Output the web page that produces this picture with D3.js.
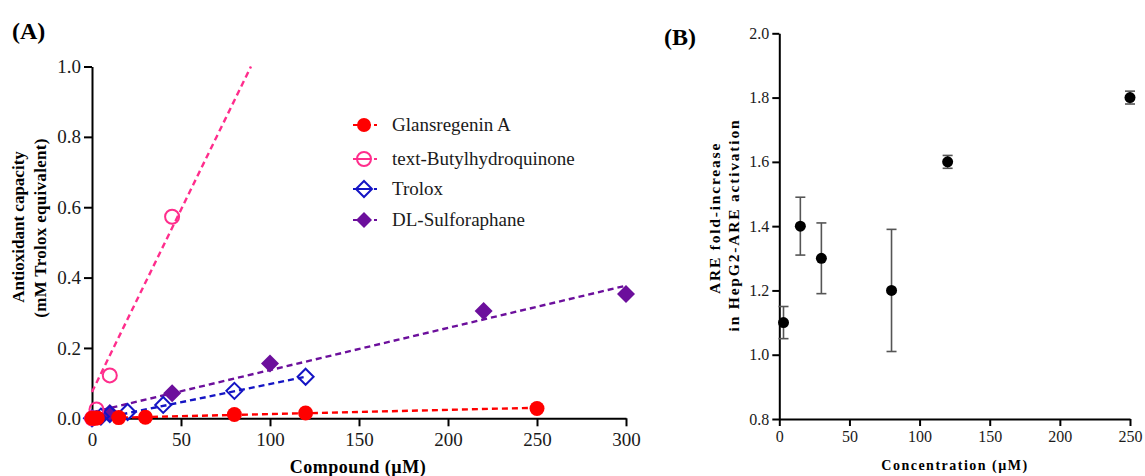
<!DOCTYPE html>
<html>
<head>
<meta charset="utf-8">
<script src="https://cdn.jsdelivr.net/npm/d3@7"></script>
<style>
  body { margin: 0; background: #fff; }
  svg { display: block; font-family: "Liberation Serif", "Times New Roman", serif; }
</style>
</head>
<body>
<div id="chart"></div>
<script>
// ---- panel A data ----
const glansX = [0, 1.5, 3, 15, 30, 80, 120, 250];
const glansY = [0, 0, 0.001, 0.002, 0.003, 0.011, 0.015, 0.028];
const tbhqX = [0, 2.5, 10, 45];
const tbhqY = [0, 0.025, 0.122, 0.573];
const troloxX = [0, 5, 10, 20, 40, 80, 120];
const troloxY = [0, 0.005, 0.012, 0.018, 0.038, 0.078, 0.118];
const sulfX = [10, 45, 100, 220, 300];
const sulfY = [0.015, 0.071, 0.156, 0.305, 0.353];
// fitted trend lines [x0, y0, x1, y1]
const glansFit = [0, 0, 250, 0.03];
const tbhqFit = [0, 0.075, 89.3, 1.0];
const troloxFit = [0, -0.006, 120, 0.118];
const sulfFit = [0, 0.017, 300, 0.377];
const seriesNames = ['Glansregenin A', 'text-Butylhydroquinone', 'Trolox', 'DL-Sulforaphane'];
const xTicksA = [0, 50, 100, 150, 200, 250, 300];
const yTicksA = [0, 0.2, 0.4, 0.6, 0.8, 1.0];

// ---- panel B data ----
const concX = [3, 15, 30, 80, 120, 250];
const foldY = [1.10, 1.40, 1.30, 1.20, 1.60, 1.80];
const foldErr = [0.05, 0.09, 0.11, 0.19, 0.02, 0.02];
const xTicksB = [0, 50, 100, 150, 200, 250];
const yTicksB = [0.8, 1.0, 1.2, 1.4, 1.6, 1.8, 2.0];

const width = 1145, height = 476;

const svg = d3.select('#chart').append('svg')
  .attr('width', width)
  .attr('height', height);

svg.append('rect').attr('width', width).attr('height', height).attr('fill', '#fff');

function styleAxis(g, fs) {
  g.select('.domain').attr('stroke', '#000').attr('stroke-width', 2);
  g.selectAll('.tick line').attr('stroke', '#000').attr('stroke-width', 2);
  g.selectAll('.tick text').attr('fill', '#1a1a1a').style('font-size', fs + 'px')
    .style('font-family', '"Liberation Serif", "Times New Roman", serif');
}

// ================= Panel A =================
const xA = d3.scaleLinear().domain([0, 300]).range([92, 626]);
const yA = d3.scaleLinear().domain([0, 1]).range([418.3, 66.5]);

const axAx = svg.append('g').attr('transform', `translate(0,${yA(0)})`)
  .call(d3.axisBottom(xA).tickValues(xTicksA).tickSize(8).tickSizeOuter(0).tickPadding(6));
styleAxis(axAx, 19);
const axAy = svg.append('g').attr('transform', `translate(${xA(0)},0)`)
  .call(d3.axisLeft(yA).tickValues(yTicksA).tickFormat(d3.format('.1f')).tickSize(8).tickSizeOuter(0).tickPadding(3));
styleAxis(axAy, 19);

svg.append('text').attr('x', 12).attr('y', 39).text('(A)')
  .style('font-size', '24px').style('font-weight', 'bold');

svg.append('text').attr('x', 358).attr('y', 473).attr('text-anchor', 'middle')
  .text('Compound (µM)').style('font-size', '18px').style('font-weight', 'bold').style('letter-spacing', '0.5px');

svg.append('text').attr('transform', 'translate(24,227) rotate(-90)').attr('text-anchor', 'middle')
  .text('Antioxidant capacity').style('font-size', '17px').style('font-weight', 'bold');
svg.append('text').attr('transform', 'translate(46,228) rotate(-90)').attr('text-anchor', 'middle')
  .text('(mM Trolox equivalent)').style('font-size', '17px').style('font-weight', 'bold').style('letter-spacing', '0.3px');

const seriesA = [
  { name: seriesNames[0], xs: glansX, ys: glansY, fit: glansFit, color: '#ff0000', shape: 'circle', filled: true, size: 7.5 },
  { name: seriesNames[1], xs: tbhqX, ys: tbhqY, fit: tbhqFit, color: '#ff2d8c', shape: 'circle', filled: false, size: 7 },
  { name: seriesNames[2], xs: troloxX, ys: troloxY, fit: troloxFit, color: '#1414c4', shape: 'diamond', filled: false, size: 8 },
  { name: seriesNames[3], xs: sulfX, ys: sulfY, fit: sulfFit, color: '#6c0f9c', shape: 'diamond', filled: true, size: 9 }
];

function drawMarker(g, cx, cy, s) {
  if (s.shape === 'circle') {
    g.append('circle').attr('cx', cx).attr('cy', cy).attr('r', s.size)
      .attr('fill', s.filled ? s.color : 'none')
      .attr('stroke', s.color).attr('stroke-width', s.filled ? 0 : 2);
  } else {
    const r = s.size;
    g.append('path')
      .attr('d', `M${cx},${cy - r}L${cx + r},${cy}L${cx},${cy + r}L${cx - r},${cy}Z`)
      .attr('fill', s.filled ? s.color : 'none')
      .attr('stroke', s.color).attr('stroke-width', s.filled ? 0 : 2);
  }
}

// trend lines first, markers on top (drawn in reverse order so red sits on top)
seriesA.forEach(s => {
  svg.append('line')
    .attr('x1', xA(s.fit[0])).attr('y1', yA(s.fit[1]))
    .attr('x2', xA(s.fit[2])).attr('y2', yA(s.fit[3]))
    .attr('stroke', s.color).attr('stroke-width', 2.4).attr('stroke-dasharray', '6,4');
});
seriesA.slice().reverse().forEach(s => {
  const g = svg.append('g');
  s.xs.forEach((x, i) => drawMarker(g, xA(x), yA(s.ys[i]), s));
});

// legend
const legendY = [125, 159, 189, 220];
seriesA.forEach((s, i) => {
  const g = svg.append('g');
  const cy = legendY[i];
  g.append('line').attr('x1', 353).attr('x2', 360).attr('y1', cy).attr('y2', cy)
    .attr('stroke', s.color).attr('stroke-width', 2);
  g.append('line').attr('x1', 368).attr('x2', 378).attr('y1', cy).attr('y2', cy)
    .attr('stroke', s.color).attr('stroke-width', 2).attr('stroke-dasharray', '3,3');
  if (!s.filled) {
    g.append('line').attr('x1', 358).attr('x2', 369).attr('y1', cy).attr('y2', cy)
      .attr('stroke', s.color).attr('stroke-width', 2);
  }
  drawMarker(g, 364, cy, Object.assign({}, s, { size: s.shape === 'circle' ? 7 : 8 }));
  g.append('text').attr('x', 392).attr('y', cy + 6).text(s.name)
    .attr('fill', '#1a1a1a').style('font-size', '19px');
});

// ================= Panel B =================
const xB = d3.scaleLinear().domain([0, 250]).range([779.3, 1130]);
const yB = d3.scaleLinear().domain([0.8, 2.0]).range([419, 33.3]);

const axBx = svg.append('g').attr('transform', `translate(0,${yB(0.8)})`)
  .call(d3.axisBottom(xB).tickValues(xTicksB).tickSize(7).tickSizeOuter(0).tickPadding(5));
styleAxis(axBx, 16);
const axBy = svg.append('g').attr('transform', `translate(${xB(0)},0)`)
  .call(d3.axisLeft(yB).tickValues(yTicksB).tickFormat(d3.format('.1f')).tickSize(7).tickSizeOuter(0).tickPadding(3));
styleAxis(axBy, 16);

svg.append('text').attr('x', 664).attr('y', 45).text('(B)')
  .style('font-size', '24px').style('font-weight', 'bold');

svg.append('text').attr('x', 955).attr('y', 470).attr('text-anchor', 'middle')
  .text('Concentration (µM)').style('font-size', '14px').style('font-weight', 'bold').style('letter-spacing', '1.5px');

svg.append('text').attr('transform', 'translate(720,218) rotate(-90)').attr('text-anchor', 'middle')
  .text('ARE fold-increase').style('font-size', '15.5px').style('font-weight', 'bold').style('letter-spacing', '1.8px');
svg.append('text').attr('transform', 'translate(739,225) rotate(-90)').attr('text-anchor', 'middle')
  .text('in HepG2-ARE activation').style('font-size', '15.5px').style('font-weight', 'bold').style('letter-spacing', '1.8px');

const errG = svg.append('g').attr('stroke', '#555').attr('stroke-width', 1.6);
concX.forEach((x, i) => {
  const cx = xB(x);
  const top = yB(foldY[i] + foldErr[i]);
  const bot = yB(foldY[i] - foldErr[i]);
  errG.append('line').attr('x1', cx).attr('x2', cx).attr('y1', top).attr('y2', bot);
  errG.append('line').attr('x1', cx - 5).attr('x2', cx + 5).attr('y1', top).attr('y2', top);
  errG.append('line').attr('x1', cx - 5).attr('x2', cx + 5).attr('y1', bot).attr('y2', bot);
});

svg.append('g').selectAll('circle')
  .data(concX)
  .join('circle')
  .attr('cx', d => xB(d))
  .attr('cy', (d, i) => yB(foldY[i]))
  .attr('r', 5.5)
  .attr('fill', '#000');
</script>
</body>
</html>
